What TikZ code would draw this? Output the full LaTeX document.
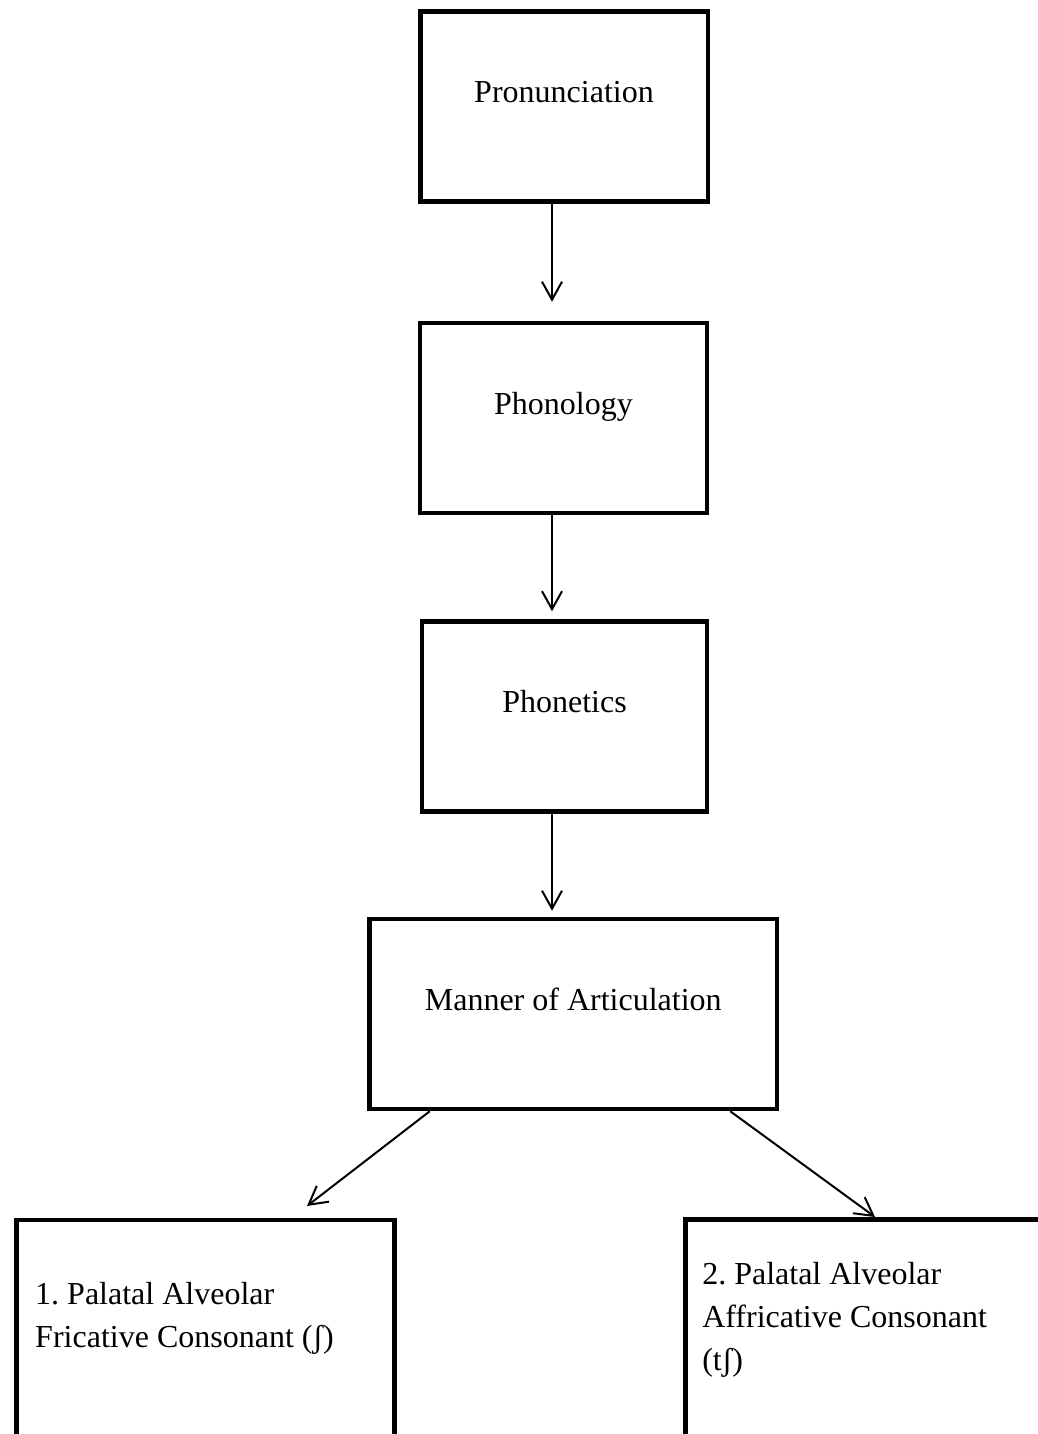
\documentclass[tikz,border=0pt]{standalone}
\usepackage{fontspec}
\setmainfont{Liberation Serif}
\usetikzlibrary{arrows.meta}
\frenchspacing

\begin{document}
\begin{tikzpicture}[x=0.5pt, y=-0.5pt,
  every node/.style={draw, line width=2.25pt, rectangle, inner sep=0pt, font=\fontsize{16}{21.6}\selectfont},
  stage/.style={minimum height=95pt, text height=12pt, text depth=16pt},
  leaf/.style={anchor=north west, minimum height=150pt},
  leaftext/.style={draw=none, anchor=north west, align=left},
  arr/.style={line width=1pt, -{Straight Barb[length=9pt, width=10pt, line width=1pt]}}]
\useasboundingbox (0,0) rectangle (1038,1434);
\clip (0,0) rectangle (1038,1434);
\coordinate (stem) at (552,0);

\node[stage, minimum width=143.75pt] (NPron) at (564,106.5) {Pronunciation};
\node[stage, minimum width=143.5pt] (NPhon) at (563.5,418) {Phonology};
\node[stage, minimum width=142.5pt] (NPhet) at (564.5,716.5) {Phonetics};
\node[stage, minimum width=203.75pt] (NMan) at (573.25,1014) {Manner of Articulation};
\node[leaf, minimum width=189pt] (NFric) at (14,1217.5) {};
\node[leaf, minimum width=200pt] (NAffr) at (683,1217) {};
\node[leaftext] (TFric) at ([shift={(9.5pt,-31.25pt)}]NFric.north west) {1. Palatal Alveolar\\Fricative Consonant (ʃ)};
\node[leaftext] (TAffr) at ([shift={(8.5pt,-21.5pt)}]NAffr.north west) {2. Palatal Alveolar\\Affricative Consonant\\(tʃ)};

\draw[arr, shorten >=9.5pt] (NPron.south -| stem) -- (NPhon.north -| stem);
\draw[arr, shorten >=4pt] (NPhon.south -| stem) -- (NPhet.north -| stem);
\draw[arr, shorten >=3pt] (NPhet.south -| stem) -- (NMan.north -| stem);
\draw[arr] ([xshift=31.25pt]NMan.south west) -- ([xshift=146.5pt, yshift=5.75pt]NFric.north west);
\draw[arr] ([xshift=-24.5pt]NMan.south east) -- ([xshift=96pt]NAffr.north west);
\end{tikzpicture}
\end{document}
